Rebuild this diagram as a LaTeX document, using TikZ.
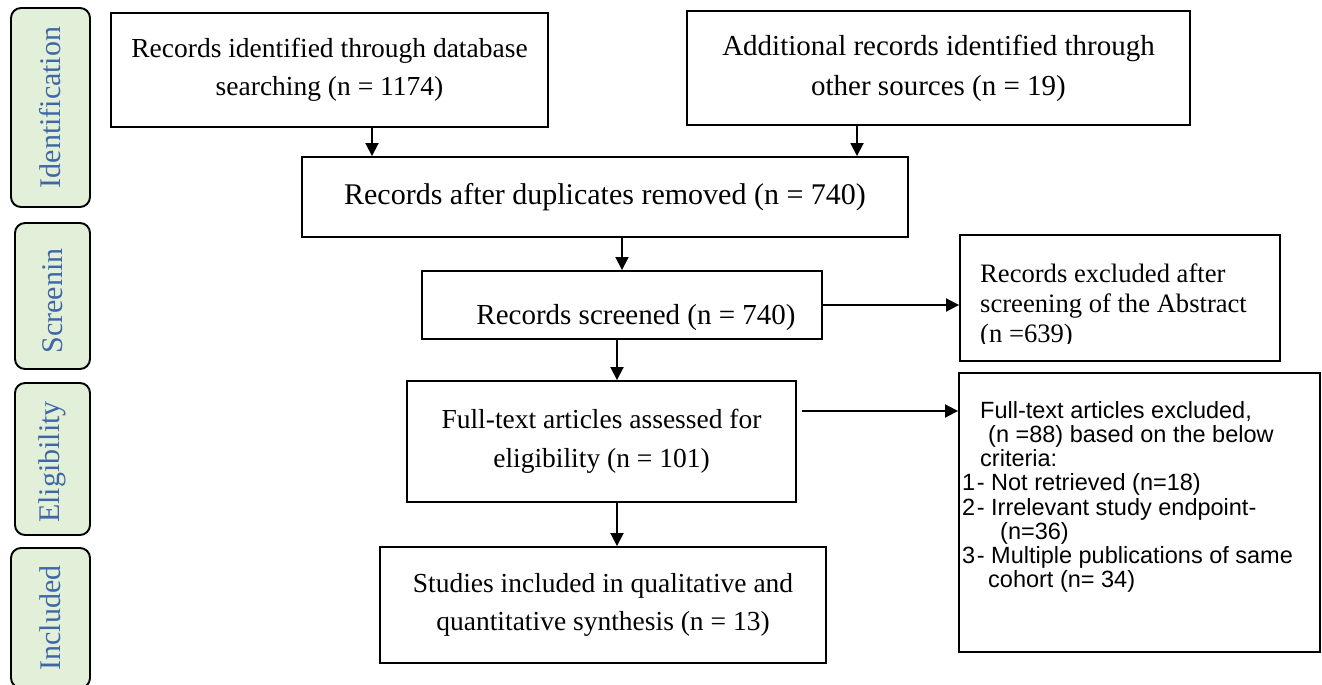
\documentclass[tikz,border=0pt]{standalone}
\usepackage{fontspec}
\setmainfont{Liberation Serif}
\newfontfamily\arialf{Liberation Sans}
\usetikzlibrary{arrows.meta}
\definecolor{labfill}{HTML}{E2EFD9}
\definecolor{labtext}{HTML}{3F67A5}
\begin{document}
\begin{tikzpicture}[x=1pt,y=-1pt,
  box/.style={draw, line width=1.9pt, inner sep=0pt, align=center,
              font=\fontsize{27.5}{38.5}\selectfont},
  lab/.style={draw, line width=1.9pt, rounded corners=10pt, fill=labfill, inner sep=0pt},
  labtxt/.style={rotate=90, text=labtext, font=\fontsize{30}{34}\selectfont, inner sep=0pt},
  arr/.style={line width=1.9pt, -{Triangle[width=13pt,length=13pt]}},
  plain/.style={inner sep=0pt, align=left, anchor=north west}
  ]
\useasboundingbox (0,0) rectangle (1322,685);

% stage labels
\node[lab, minimum width=79pt, minimum height=199pt] (l1) at (50.5,107.5) {};
\node[labtxt] (l1t) at (l1.center) {Identification};
\node[lab, minimum width=75pt, minimum height=146pt] (l2) at (52.5,296) {};
\node[labtxt] (l2t) at ([yshift=-5pt]l2.center) {Screenin};
\node[lab, minimum width=75pt, minimum height=152pt] (l3) at (52.5,459) {};
\node[labtxt] (l3t) at ([yshift=-3pt]l3.center) {Eligibility};
\node[lab, minimum width=79pt, minimum height=140pt] (l4) at (50.5,618) {};
\node[labtxt] (l4t) at (l4.center) {Included};

% main boxes
\node[box, minimum width=437pt, minimum height=114pt] (id1) at (329.5,70)
  {Records identified through database\\searching (n = 1174)};
\node[box, minimum width=503pt, minimum height=114pt, font=\fontsize{29}{40}\selectfont] (id2) at (938.5,68)
  {Additional records identified through\\other sources (n = 19)};
\node[box, minimum width=606pt, minimum height=80pt, font=\fontsize{30}{38}\selectfont] (dup) at (605,197)
  {Records after duplicates removed (n = 740)};
\node[box, minimum width=400pt, minimum height=68pt] (scr) at (622,305) {};
\node[inner sep=0pt, font=\fontsize{29}{38}\selectfont] (scrt) at ([shift={(14,13)}]scr.center)
  {Records screened (n = 740)};
\node[box, minimum width=389pt, minimum height=121pt] (ft) at (601.5,441.5)
  {Full-text articles assessed for\\eligibility (n = 101)};
\node[box, minimum width=446pt, minimum height=116pt] (st) at (603,605)
  {Studies included in qualitative and\\quantitative synthesis (n = 13)};

% exclusion boxes
\node[draw, line width=1.9pt, minimum width=320pt, minimum height=126pt, inner sep=0pt] (ex1) at (1120,298) {};
\begin{scope}
\clip (960,236) rectangle (1280,343);
\node[plain, font=\fontsize{26.6}{30}\selectfont] (ex1t) at (980,264)
  {Records excluded after\\screening of the Abstract\\(n =639)};
\end{scope}

\node[draw, line width=1.9pt, minimum width=361pt, minimum height=279pt, inner sep=0pt] (ex2) at (1139.5,512.5) {};
\node[plain, font=\arialf\fontsize{23.5}{24.2}\selectfont] (ex2t) at (962,401)
  {\hspace*{18pt}Full-text articles excluded,\\
   \hspace*{26pt}(n =88) based on the below\\
   \hspace*{18pt}criteria:\\
   \makebox[29pt][l]{1\hspace{1.5pt}-}Not retrieved (n=18)\\
   \makebox[29pt][l]{2\hspace{1.5pt}-}Irrelevant study endpoint-\\
   \hspace*{38pt}(n=36)\\
   \makebox[29pt][l]{3\hspace{1.5pt}-}Multiple publications of same\\
   \hspace*{26pt}cohort (n= 34)};

% connectors
\coordinate (c1) at (372,0);
\coordinate (c2) at (857,0);
\coordinate (c3) at (622,0);
\coordinate (c4) at (617,0);
\coordinate (c5) at (802,411);
\draw[arr] (c1 |- id1.south) -- (c1 |- dup.north);
\draw[arr] (c2 |- id2.south) -- (c2 |- dup.north);
\draw[arr] (c3 |- dup.south) -- (c3 |- scr.north);
\draw[arr] (c4 |- scr.south) -- (c4 |- ft.north);
\draw[arr] (c4 |- ft.south) -- (c4 |- st.north);
\draw[arr] (scr.east) -- (scr.east -| ex1.west);
\draw[arr] (c5) -- (c5 -| ex2.west);
\end{tikzpicture}
\end{document}
